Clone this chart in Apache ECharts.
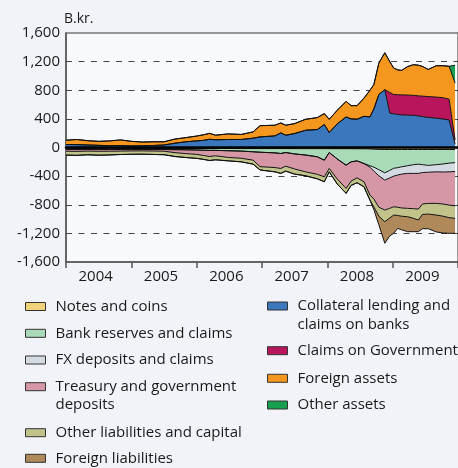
<!DOCTYPE html>
<html>
<head>
<meta charset="utf-8">
<script src="https://cdn.jsdelivr.net/npm/echarts@6/dist/echarts.min.js"></script>
<style>
html,body{margin:0;padding:0;background:#f1f3f8;}
#chart{width:458px;height:468px;}
</style>
</head>
<body>
<div id="chart"></div>
<script>
// ---- data (B.kr.) ----
const years = ['2004', '2005', '2006', '2007', '2008', '2009'];
// observation dates in decimal years
const t = [2004.000, 2004.167, 2004.333, 2004.500, 2004.667, 2004.833, 2005.000, 2005.167, 2005.333, 2005.500,
  2005.667, 2005.833, 2006.000, 2006.106, 2006.197, 2006.288, 2006.485, 2006.682, 2006.864, 2006.970,
  2007.197, 2007.288, 2007.364, 2007.500, 2007.667, 2007.848, 2007.955, 2008.030, 2008.152, 2008.288,
  2008.364, 2008.455, 2008.561, 2008.652, 2008.712, 2008.788, 2008.879, 2008.955, 2009.015, 2009.076,
  2009.136, 2009.227, 2009.318, 2009.394, 2009.455, 2009.545, 2009.667, 2009.773, 2009.864, 2009.955];

const collateral = [42, 40, 35, 30, 25, 28, 22, 25, 28, 35,
  60, 80, 92, 100, 115, 108, 112, 112, 130, 148,
  162, 204, 171, 195, 241, 251, 321, 209, 330, 427,
  400, 395, 436, 427, 540, 740, 808, 480, 470, 462,
  455, 452, 450, 440, 432, 420, 410, 398, 385, 45];
const claimsGov = [0, 0, 0, 0, 0, 0, 0, 0, 0, 0,
  0, 0, 0, 0, 0, 0, 0, 0, 0, 0,
  0, 0, 0, 0, 0, 0, 0, 0, 0, 0,
  0, 0, 0, 0, 0, 0, 0, 290, 270, 276,
  281, 281, 279, 282, 286, 292, 295, 297, 290, 60];
const foreignAssets = [60, 72, 60, 56, 67, 78, 64, 51, 52, 45,
  58, 58, 68, 78, 83, 64, 78, 70, 88, 157,
  149, 139, 140, 139, 153, 167, 153, 185, 190, 218,
  185, 190, 254, 373, 340, 440, 516, 430, 370, 347,
  341, 397, 428, 428, 415, 379, 438, 448, 460, 795];
const otherAssets = [0, 0, 0, 0, 0, 0, 0, 0, 0, 0,
  0, 0, 0, 0, 0, 0, 0, 0, 0, 0,
  0, 0, 0, 0, 0, 0, 0, 0, 0, 0,
  0, 0, 0, 0, 0, 0, 0, 0, 0, 0,
  0, 0, 0, 0, 0, 0, 0, 0, 0, 250];

const notesCoins = [-12, -12, -12, -12, -12, -12, -13, -13, -13, -13,
  -13, -13, -14, -14, -14, -14, -14, -15, -15, -15,
  -15, -15, -15, -16, -16, -16, -16, -16, -17, -17,
  -17, -18, -18, -20, -24, -26, -28, -28, -28, -28,
  -28, -28, -28, -28, -28, -28, -28, -28, -28, -28];
const bankReserves = [-14, -14, -13, -14, -15, -14, -12, -13, -13, -15,
  -17, -19, -21, -24, -26, -26, -31, -35, -45, -51,
  -60, -69, -55, -74, -89, -114, -161, -54, -143, -230,
  -183, -169, -205, -235, -251, -284, -326, -292, -262, -254,
  -242, -227, -212, -205, -212, -222, -212, -202, -190, -184];
const fxDeposits = [0, 0, 0, 0, 0, 0, 0, 0, 0, 0,
  0, 0, 0, 0, 0, 0, 0, 0, 0, 0,
  0, 0, 0, 0, 0, 0, 0, 0, 0, 0,
  0, 0, -3, -20, -55, -85, -102, -105, -110, -103,
  -102, -107, -122, -129, -110, -95, -100, -112, -122, -123];
const treasury = [-26, -28, -25, -27, -25, -24, -23, -21, -23, -24,
  -42, -53, -61, -74, -86, -76, -94, -100, -117, -202,
  -205, -209, -191, -210, -235, -245, -233, -223, -280, -325,
  -270, -237, -253, -390, -390, -440, -418, -425, -428, -450,
  -473, -488, -493, -498, -440, -436, -441, -448, -465, -480];
const otherLiab = [-54, -56, -52, -55, -52, -48, -47, -47, -48, -49,
  -54, -55, -56, -54, -56, -56, -48, -50, -56, -46,
  -60, -69, -69, -72, -55, -63, -69, -47, -70, -69,
  -60, -69, -70, -70, -110, -125, -163, -135, -116, -115,
  -115, -117, -135, -153, -145, -149, -163, -170, -175, -175];
const foreignLiab = [0, 0, 0, 0, 0, 0, 0, 0, 0, 0,
  0, 0, 0, 0, 0, 0, 0, 0, 0, 0,
  0, 0, 0, 0, 0, 0, 0, 0, 0, 0,
  0, 0, 0, 0, -40, -120, -301, -250, -255, -180,
  -190, -209, -186, -163, -200, -205, -236, -235, -219, -209];

// ---- styling ----
const FONT = 'Open Sans';
const TEXT = '#1a1a1a';

// decimal year -> timestamp (time axis, so that the y values are the stacked dimension)
const toTime = y => {
  const yr = Math.floor(y + 1e-9);
  const start = Date.UTC(yr, 0, 1), end = Date.UTC(yr + 1, 0, 1);
  return start + (y - yr) * (end - start);
};

const seriesDefs = [
  {name: 'Collateral lending and claims on banks', data: collateral, color: '#3a77bd', stack: 'pos'},
  {name: 'Claims on Government', data: claimsGov, color: '#b8155d', stack: 'pos'},
  {name: 'Foreign assets', data: foreignAssets, color: '#f5961f', stack: 'pos'},
  {name: 'Other assets', data: otherAssets, color: '#16a04f', stack: 'pos'},
  {name: 'Notes and coins', data: notesCoins, color: '#f1d37c', stack: 'neg'},
  {name: 'Bank reserves and claims', data: bankReserves, color: '#a9dbb8', stack: 'neg'},
  {name: 'FX deposits and claims', data: fxDeposits, color: '#d5dbe3', stack: 'neg'},
  {name: 'Treasury and government deposits', data: treasury, color: '#d597a6', stack: 'neg'},
  {name: 'Other liabilities and capital', data: otherLiab, color: '#c2c38a', stack: 'neg'},
  {name: 'Foreign liabilities', data: foreignLiab, color: '#b0895b', stack: 'neg'}
];

const series = seriesDefs.map(d => ({
  name: d.name,
  type: 'line',
  xAxisIndex: 1,
  yAxisIndex: 0,
  stack: d.stack,
  data: t.map((x, i) => [toTime(x), d.data[i]]),
  symbol: 'none',
  color: d.color,
  lineStyle: {color: '#111', width: 1},
  areaStyle: {color: d.color, opacity: 1},
  emphasis: {disabled: true},
  silent: true
}));

// leading blank line puts the icon level with the first text line
const legendLabels = {
  'Collateral lending and claims on banks': '\nCollateral lending and\nclaims on banks',
  'Treasury and government deposits': '\nTreasury and government\ndeposits'
};
const legendPlaces = [
  ['Notes and coins', 25, 306.5],
  ['Bank reserves and claims', 25, 333.3],
  ['FX deposits and claims', 25, 360],
  ['Treasury and government deposits', 25, 386.7],
  ['Other liabilities and capital', 25, 432.7],
  ['Foreign liabilities', 25, 458.3],
  ['Collateral lending and claims on banks', 267, 306],
  ['Claims on Government', 267, 350.7],
  ['Foreign assets', 267, 378.3],
  ['Other assets', 267, 405]
];
const LH = 18.5;
const legends = legendPlaces.map(([name, left, c]) => {
  const two = !!legendLabels[name];
  return {
    data: [name],
    left: left,
    top: two ? c - 1.5 * LH : c - LH / 2,
    padding: 0,
    icon: 'rect',
    itemWidth: 20,
    itemHeight: 8,
    selectedMode: false,
    itemStyle: {borderColor: '#333', borderWidth: 1},
    formatter: n => legendLabels[n] || n,
    textStyle: {fontFamily: FONT, fontSize: 15, color: TEXT, lineHeight: LH, padding: [0, 0, 0, 5]}
  };
});

const chart = echarts.init(document.getElementById('chart'), null, {renderer: 'canvas'});
chart.setOption({
  animation: false,
  backgroundColor: '#f1f3f8',
  textStyle: {fontFamily: FONT},
  grid: {left: 66, top: 33, width: 396, height: 229, show: true,
    backgroundColor: '#f8f9fc', borderColor: '#777', borderWidth: 1.5},
  legend: legends,
  xAxis: [
    {
      type: 'category', data: years, boundaryGap: true, position: 'bottom',
      axisLine: {onZero: false, lineStyle: {color: '#555', width: 1.5}},
      axisTick: {show: true, length: 6, lineStyle: {color: '#555', width: 1.5}},
      axisLabel: {fontFamily: FONT, fontSize: 15, color: TEXT, margin: 7, padding: [0, 6, 0, 0]},
      splitLine: {show: false}
    },
    {
      type: 'time', min: toTime(2004), max: toTime(2010), position: 'top', z: 10,
      axisLine: {show: true, onZero: true, lineStyle: {color: '#000', width: 2.5}},
      axisTick: {show: false}, axisLabel: {show: false}, splitLine: {show: false}
    }
  ],
  yAxis: {
    type: 'value', min: -1600, max: 1600, interval: 400,
    name: 'B.kr.', nameLocation: 'end', nameGap: 4,
    nameTextStyle: {fontFamily: FONT, fontSize: 14, color: TEXT, align: 'left', verticalAlign: 'bottom', padding: [0, 0, 0, -2]},
    axisLine: {show: true, onZero: false, lineStyle: {color: '#555', width: 1.5}},
    axisTick: {show: false},
    axisLabel: {fontFamily: FONT, fontSize: 15, color: TEXT, margin: 6,
      formatter: v => v.toLocaleString('en-US')},
    splitLine: {show: true, showMinLine: false, showMaxLine: false,
      lineStyle: {color: '#444', type: [6, 6.5], width: 1.2}}
  },
  series: series
});
</script>
</body>
</html>
